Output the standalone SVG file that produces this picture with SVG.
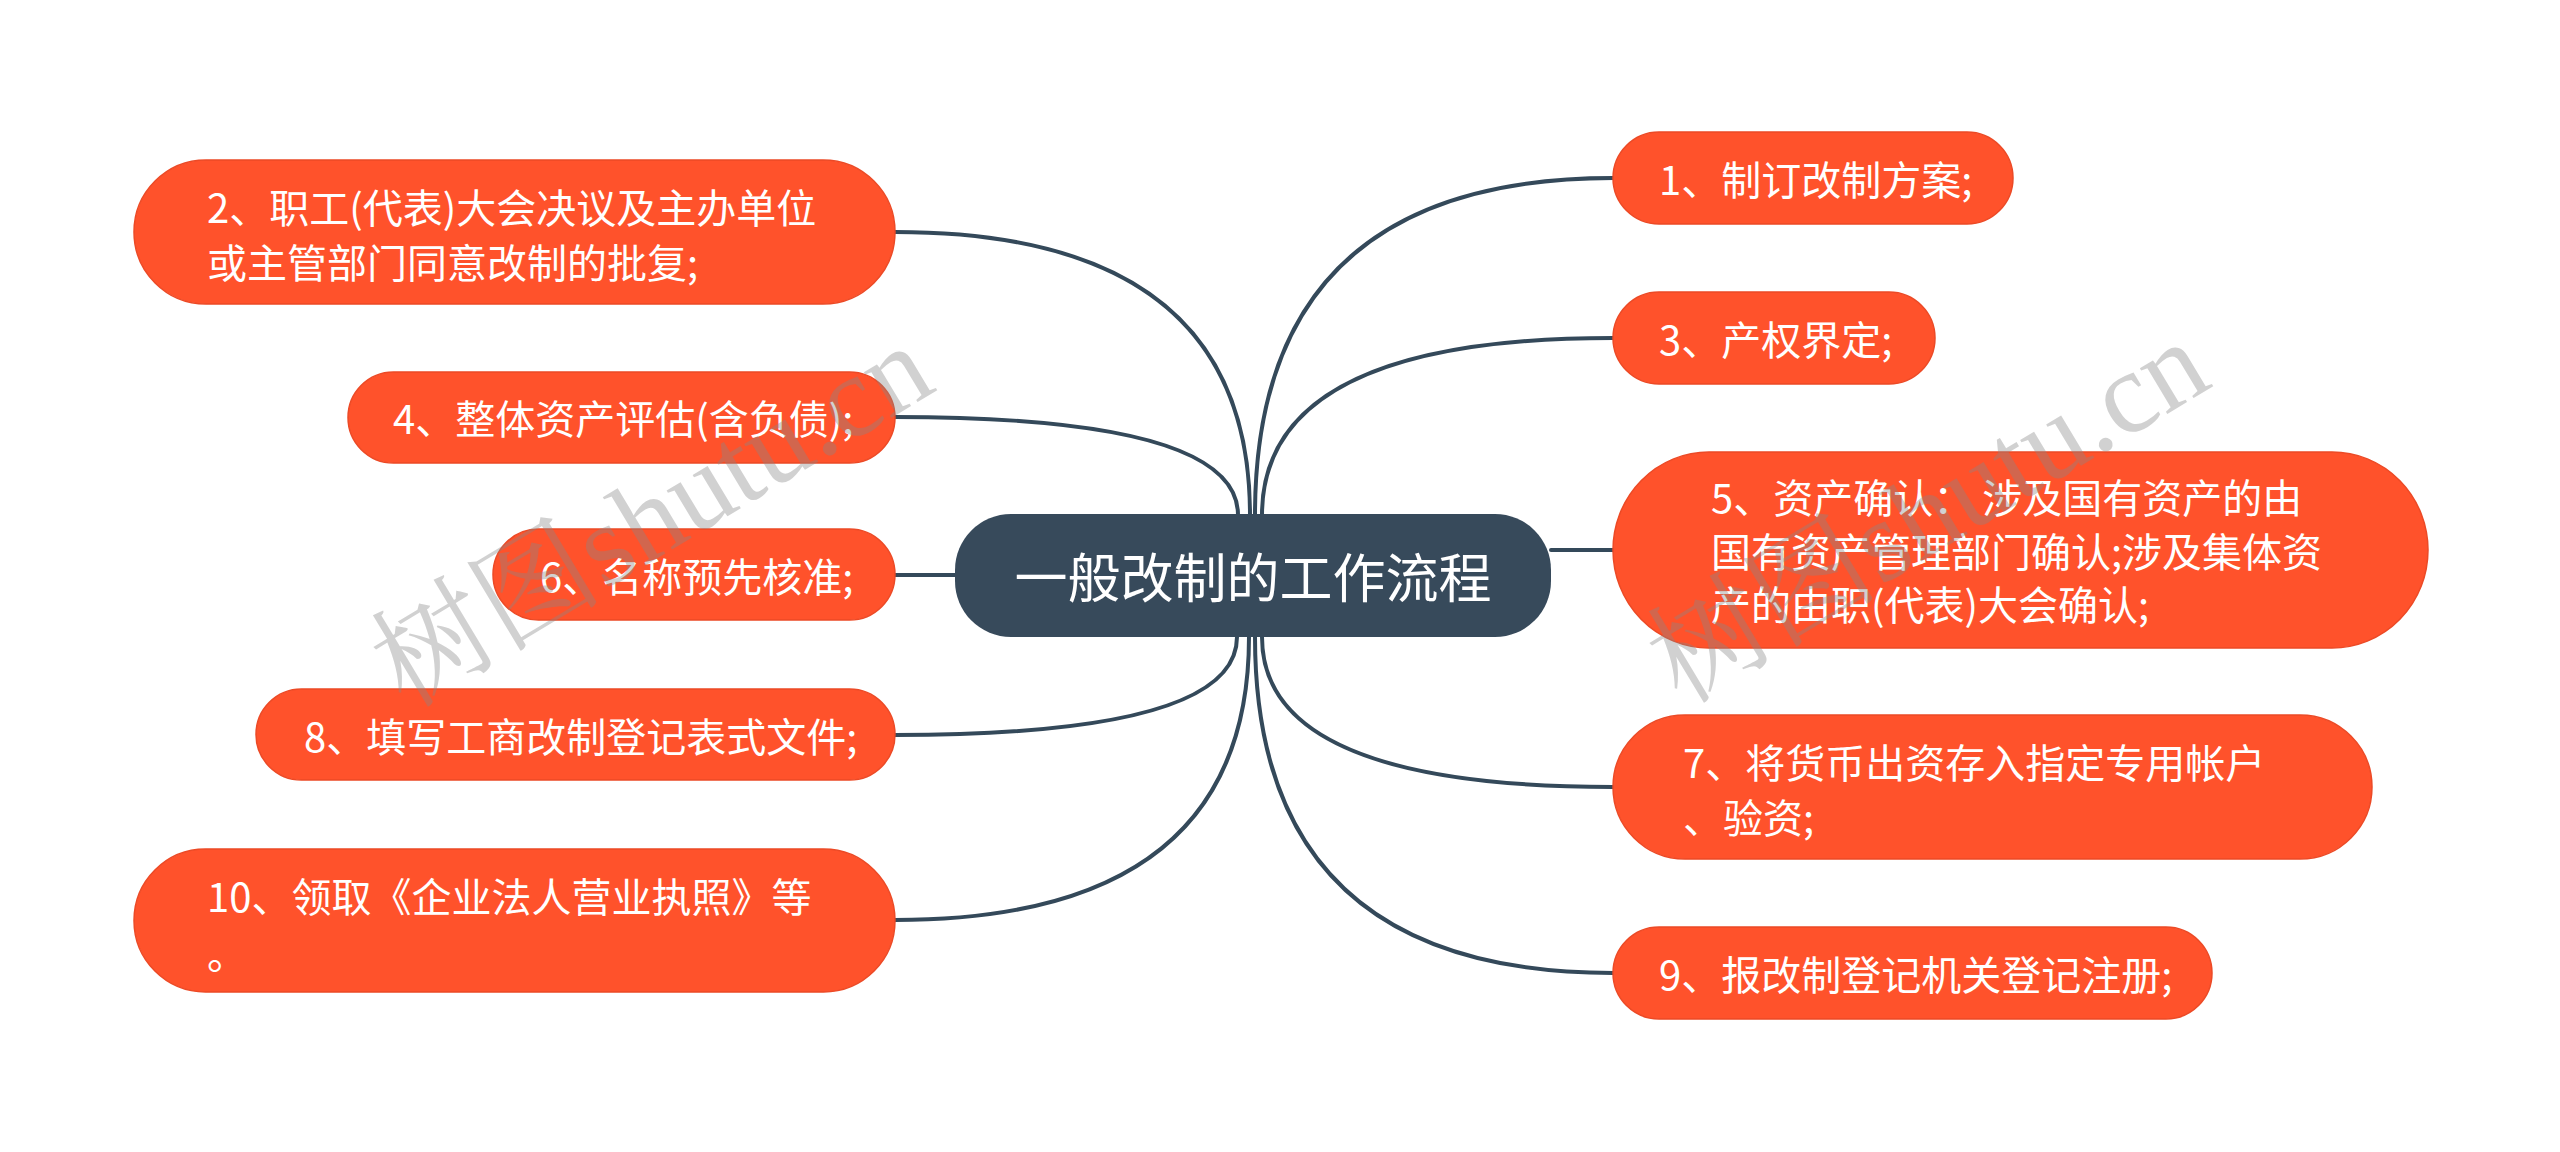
<svg xmlns="http://www.w3.org/2000/svg" width="2560" height="1152" viewBox="0 0 2560 1152">
<style>
.n{fill:#FF522B;stroke:#EC4A26;stroke-width:1.5}
.t{fill:#fff;font-family:"Noto Sans CJK SC","Noto Sans",sans-serif;font-size:40px;dominant-baseline:central}
.c{fill:#374A5B}
.ct{fill:#fff;font-family:"Noto Sans CJK SC","Noto Sans",sans-serif;font-size:53px;dominant-baseline:central}
.l{fill:none;stroke:#34495A;stroke-width:4;stroke-linecap:round}
.wm{fill:#888;opacity:0.38;font-family:"Liberation Serif","Noto Serif CJK SC","Noto Sans CJK SC",serif;font-size:116px}
</style>
<rect width="2560" height="1152" fill="#fff"/>
<g id="connectors">
<path class="l" d="M1250,515 Q1250,232 895,232"/>
<path class="l" d="M1238,515 Q1238,417 895,417"/>
<path class="l" d="M955,575 L895,575"/>
<path class="l" d="M1237,637 Q1237,735 895,735"/>
<path class="l" d="M1249,637 Q1249,920 895,920"/>
<path class="l" d="M1255,515 Q1255,178 1613,178"/>
<path class="l" d="M1262,515 Q1262,338 1613,338"/>
<path class="l" d="M1551,550 L1613,550"/>
<path class="l" d="M1262,637 Q1262,787 1613,787"/>
<path class="l" d="M1255,637 Q1255,973 1613,973"/>
</g>
<g id="center">
<rect class="c" x="955" y="514" width="596" height="123" rx="56" ry="56"/>
<text class="ct" x="1253" y="575" text-anchor="middle">一般改制的工作流程</text>
</g>
<g id="node2">
<rect class="n" x="134" y="160" width="761" height="144" rx="72" ry="72"/>
<text class="t" x="207" y="206">2、职工(代表)大会决议及主办单位</text>
<text class="t" x="207" y="261">或主管部门同意改制的批复;</text>
</g>
<g id="node4">
<rect class="n" x="348" y="372" width="547" height="91" rx="45.5" ry="45.5"/>
<text class="t" x="393" y="417">4、整体资产评估(含负债);</text>
</g>
<g id="node6">
<rect class="n" x="493" y="529" width="402" height="91" rx="45.5" ry="45.5"/>
<text class="t" x="540" y="575">6、名称预先核准;</text>
</g>
<g id="node8">
<rect class="n" x="256" y="689" width="639" height="91" rx="45.5" ry="45.5"/>
<text class="t" x="304" y="735">8、填写工商改制登记表式文件;</text>
</g>
<g id="node10">
<rect class="n" x="134" y="849" width="761" height="143" rx="71.5" ry="71.5"/>
<text class="t" x="207" y="895">10、领取《企业法人营业执照》等</text>
<text class="t" x="207" y="952">。</text>
</g>
<g id="node1">
<rect class="n" x="1613" y="132" width="400" height="92" rx="46" ry="46"/>
<text class="t" x="1659" y="178">1、制订改制方案;</text>
</g>
<g id="node3">
<rect class="n" x="1613" y="292" width="322" height="92" rx="46" ry="46"/>
<text class="t" x="1659" y="338">3、产权界定;</text>
</g>
<g id="node5">
<rect class="n" x="1613" y="452" width="815" height="196" rx="96" ry="98"/>
<text class="t" x="1711" y="496">5、资产确认： 涉及国有资产的由</text>
<text class="t" x="1711" y="550">国有资产管理部门确认;涉及集体资</text>
<text class="t" x="1711" y="603">产的由职(代表)大会确认;</text>
</g>
<g id="node7">
<rect class="n" x="1613" y="715" width="759" height="144" rx="72" ry="72"/>
<text class="t" x="1683" y="761">7、将货币出资存入指定专用帐户</text>
<text class="t" x="1683" y="816">、验资;</text>
</g>
<g id="node9">
<rect class="n" x="1613" y="927" width="599" height="92" rx="46" ry="46"/>
<text class="t" x="1659" y="973">9、报改制登记机关登记注册;</text>
</g>
<g id="watermark">
<text class="wm" transform="translate(652,516) rotate(-31)" text-anchor="middle" dominant-baseline="central">树图shutu.cn</text>
<text class="wm" transform="translate(1928,512) rotate(-31)" text-anchor="middle" dominant-baseline="central">树图shutu.cn</text>
</g>
</svg>
